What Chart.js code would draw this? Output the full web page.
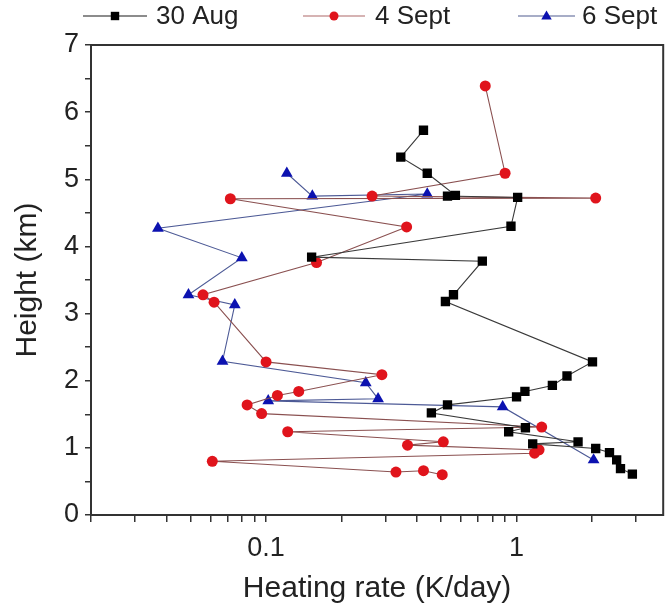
<!DOCTYPE html>
<html>
<head>
<meta charset="utf-8">
<script src="https://cdn.jsdelivr.net/npm/chart.js@4.4.1/dist/chart.umd.min.js"></script>
<style>
  html, body { margin: 0; padding: 0; background: #fff; }
  #wrap { width: 670px; height: 607px; }
</style>
</head>
<body>
<div id="wrap"><canvas id="heatChart" width="670" height="607"></canvas></div>
<script>
// series labels
const seriesNames = ["30 Aug", "4 Sept", "6 Sept"];

// 30 Aug: heating rate (K/day) and height (km)
const aug30Rate   = [0.425, 0.345, 0.44, 0.57, 0.53, 1.01, 0.95, 0.152, 0.73, 0.56, 0.52, 2.01, 1.59, 1.39, 1.08, 1.0, 0.53, 0.457, 1.085, 0.93, 1.76, 1.16, 2.07, 2.35, 2.51, 2.60, 2.90];
const aug30Height = [5.73, 5.33, 5.09, 4.76, 4.75, 4.73, 4.30, 3.84, 3.78, 3.28, 3.18, 2.28, 2.07, 1.93, 1.84, 1.76, 1.64, 1.52, 1.30, 1.24, 1.09, 1.06, 0.99, 0.93, 0.82, 0.69, 0.61];

// 4 Sept
const sep4Rate   = [0.75, 0.90, 0.265, 2.07, 0.072, 0.364, 0.159, 0.056, 0.062, 0.10, 0.29, 0.135, 0.111, 0.084, 0.096, 1.26, 0.122, 0.51, 0.367, 1.23, 1.18, 0.061, 0.33, 0.425, 0.505];
const sep4Height = [6.39, 5.09, 4.75, 4.72, 4.71, 4.29, 3.76, 3.28, 3.17, 2.28, 2.09, 1.84, 1.78, 1.64, 1.51, 1.31, 1.24, 1.09, 1.04, 0.97, 0.92, 0.80, 0.64, 0.66, 0.60];

// 6 Sept
const sep6Rate   = [0.121, 0.153, 0.44, 0.037, 0.080, 0.049, 0.075, 0.067, 0.25, 0.28, 0.102, 0.88, 2.03];
const sep6Height = [5.09, 4.75, 4.78, 4.27, 3.83, 3.28, 3.13, 2.29, 1.97, 1.73, 1.70, 1.61, 0.82];

// axis ticks
const rateTicks = [0.02, 0.03, 0.04, 0.05, 0.06, 0.07, 0.08, 0.09, 0.1, 0.2, 0.3, 0.4, 0.5, 0.6, 0.7, 0.8, 0.9, 1, 2, 3];
const rateTickLabels = [0.1, 1];
const heightTickLabels = [0, 1, 2, 3, 4, 5, 6, 7];

const FONT = "'Liberation Sans', Arial, sans-serif";
const TXT = "#222";
const AXIS = "#333";

function toPoints(xs, ys) {
    return xs.map((x, i) => ({ x: x, y: ys[i] }));
}

// marker drawing used by the legend
function drawMarker(ctx, style, x, y, r, color) {
    ctx.fillStyle = color;
    ctx.beginPath();
    if (style === "rect") {
        ctx.rect(x - r, y - r, 2 * r, 2 * r);
    } else if (style === "circle") {
        ctx.arc(x, y, r, 0, Math.PI * 2);
    } else {
        ctx.moveTo(x, y - r * 1.1);
        ctx.lineTo(x + r * 1.05, y + r * 0.7);
        ctx.lineTo(x - r * 1.05, y + r * 0.7);
        ctx.closePath();
    }
    ctx.fill();
}

const legendPlugin = {
    id: "lineLegend",
    afterDraw(chart) {
        const ctx = chart.ctx;
        const slots = [
            { x0: 83, x1: 147, tx: 156 },
            { x0: 303, x1: 365, tx: 375 },
            { x0: 518, x1: 575, tx: 582 }
        ];
        const sizes = [4.2, 4.5, 5];
        const y = 16;
        ctx.save();
        chart.data.datasets.forEach((ds, i) => {
            const s = slots[i];
            ctx.strokeStyle = ds.legendLine;
            ctx.lineWidth = 1.5;
            ctx.beginPath();
            ctx.moveTo(s.x0, y);
            ctx.lineTo(s.x1, y);
            ctx.stroke();
            drawMarker(ctx, ds.pointStyle, (s.x0 + s.x1) / 2, y, sizes[i], ds.pointBackgroundColor);
            ctx.fillStyle = TXT;
            ctx.font = "26px " + FONT;
            ctx.textBaseline = "middle";
            ctx.textAlign = "left";
            ctx.fillText(ds.label, s.tx, y + 1);
        });
        ctx.restore();
    }
};

// box round the plot area
const framePlugin = {
    id: "frame",
    beforeDatasetsDraw(chart) {
        const a = chart.chartArea;
        const ctx = chart.ctx;
        ctx.save();
        ctx.strokeStyle = AXIS;
        ctx.lineWidth = 2;
        ctx.strokeRect(a.left, a.top, a.right - a.left, a.bottom - a.top);
        ctx.restore();
    }
};

const ctx = document.getElementById("heatChart").getContext("2d");
new Chart(ctx, {
    type: "scatter",
    data: {
        datasets: [
            {
                label: seriesNames[0],
                data: toPoints(aug30Rate, aug30Height),
                showLine: true,
                borderColor: "#3a3a3a",
                legendLine: "#666",
                borderWidth: 1.1,
                pointStyle: "rect",
                pointRadius: 6.6,
                pointHoverRadius: 6.6,
                pointBackgroundColor: "#000",
                pointBorderColor: "#000",
                pointBorderWidth: 0
            },
            {
                label: seriesNames[1],
                data: toPoints(sep4Rate, sep4Height),
                showLine: true,
                borderColor: "#8a5050",
                legendLine: "#c89a9a",
                borderWidth: 1.1,
                pointStyle: "circle",
                pointRadius: 5.5,
                pointHoverRadius: 5.5,
                pointBackgroundColor: "#e0141c",
                pointBorderColor: "#e0141c",
                pointBorderWidth: 0
            },
            {
                label: seriesNames[2],
                data: toPoints(sep6Rate, sep6Height),
                showLine: true,
                borderColor: "#4d5a96",
                legendLine: "#8a92b4",
                borderWidth: 1.1,
                pointStyle: "triangle",
                pointRadius: 6.8,
                pointHoverRadius: 6.8,
                pointBackgroundColor: "#0c12b0",
                pointBorderColor: "#0c12b0",
                pointBorderWidth: 0
            }
        ]
    },
    options: {
        responsive: false,
        animation: false,
        layout: { padding: { top: 45, right: 0, left: 0, bottom: 0 } },
        plugins: {
            legend: { display: false },
            tooltip: { enabled: false }
        },
        scales: {
            x: {
                type: "logarithmic",
                min: 0.02,
                max: 3.85,
                afterBuildTicks: (scale) => {
                    scale.ticks = rateTicks.map(v => ({ value: v }));
                },
                afterFit: (scale) => {
                    scale.height = 92;
                    scale.paddingLeft = 0;
                    scale.paddingRight = 0;
                },
                grid: { drawOnChartArea: false, drawTicks: true, tickLength: 7, color: AXIS, tickColor: AXIS, lineWidth: 1.5 },
                border: { display: true, color: AXIS, width: 2 },
                ticks: {
                    autoSkip: false,
                    maxRotation: 0,
                    padding: 10,
                    color: TXT,
                    font: { family: FONT, size: 27 },
                    callback: (v) => rateTickLabels.includes(v) ? String(v) : ""
                },
                title: {
                    display: true,
                    text: "Heating rate (K/day)",
                    color: TXT,
                    font: { family: FONT, size: 30 },
                    padding: { top: 0, bottom: 0 }
                }
            },
            y: {
                min: 0,
                max: 7,
                afterFit: (scale) => { scale.width = 91; },
                grid: { drawOnChartArea: false, drawTicks: true, tickLength: 6, color: AXIS, tickColor: AXIS, lineWidth: 1.5 },
                border: { display: true, color: AXIS, width: 2 },
                ticks: {
                    stepSize: 0.5,
                    autoSkip: false,
                    padding: 6,
                    color: TXT,
                    font: { family: FONT, size: 27 },
                    callback: (v) => heightTickLabels.includes(v) ? String(v) : ""
                },
                title: {
                    display: true,
                    text: "Height (km)",
                    color: TXT,
                    font: { family: FONT, size: 30 },
                    padding: { top: 10, bottom: 0 }
                }
            }
        }
    },
    plugins: [framePlugin, legendPlugin]
});
</script>
</body>
</html>
